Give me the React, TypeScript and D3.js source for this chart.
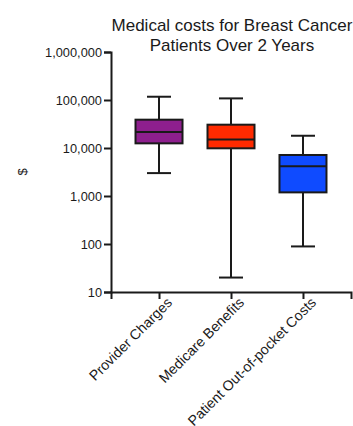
import React, { useEffect, useRef } from 'react';
import * as d3 from 'd3';

// chart data
const categories = ['Provider Charges', 'Medicare Benefits', 'Patient Out-of-pocket Costs'];
const whiskerLow = [3000, 20, 89];
const q1 = [12500, 9850, 1190];
const medians = [21500, 15100, 4150];
const q3 = [38900, 30600, 7150];
const whiskerHigh = [117000, 108000, 18000];
const colors = ['#8e1f8e', '#ff2a00', '#0f4bff'];
const yTicks = [10, 100, 1000, 10000, 100000, 1000000];

const App = () => {
  const svgRef = useRef<SVGSVGElement>(null);
  const width = 353, height = 426;
  const margin = { top: 52, right: 2, bottom: 134, left: 111 };

  useEffect(() => {
    const svg = d3.select(svgRef.current);
    svg.selectAll('*').remove();

    const x = d3.scalePoint()
      .domain(categories)
      .range([margin.left, width - margin.right])
      .padding(0.667);

    const y = d3.scaleLog()
      .domain([10, 1000000])
      .range([height - margin.bottom, margin.top]);

    const font = 'Liberation Sans, Arial, Helvetica, sans-serif';
    const ink = '#1a1a1a';

    // title
    svg.append('text')
      .attr('x', 232).attr('y', 30.5)
      .attr('text-anchor', 'middle')
      .attr('font-family', font).attr('font-size', 17).attr('fill', ink)
      .text('Medical costs for Breast Cancer');
    svg.append('text')
      .attr('x', 232).attr('y', 51)
      .attr('text-anchor', 'middle')
      .attr('font-family', font).attr('font-size', 17).attr('fill', ink)
      .text('Patients Over 2 Years');

    // y axis label
    svg.append('text')
      .attr('transform', `translate(27,172) rotate(-90)`)
      .attr('text-anchor', 'middle')
      .attr('font-family', font).attr('font-size', 13).attr('fill', ink)
      .text('$');

    // y axis
    const yAxis = svg.append('g')
      .attr('transform', `translate(${margin.left},0)`)
      .call(d3.axisLeft(y).tickValues(yTicks).tickFormat(d3.format(',') as any).tickSizeOuter(0).tickSize(7).tickPadding(2));
    yAxis.selectAll('text')
      .attr('font-family', font).attr('font-size', 12.8).attr('fill', ink);

    // x axis
    const xAxis = svg.append('g')
      .attr('transform', `translate(0,${height - margin.bottom})`)
      .call(d3.axisBottom(x).tickSizeOuter(0).tickSize(7));
    xAxis.selectAll('text')
      .attr('font-family', font).attr('font-size', 14.2).attr('fill', ink)
      .attr('text-anchor', 'end')
      .attr('dy', '0.75em')
      .attr('transform', 'translate(6,4) rotate(-45)')
      .attr('x', 0).attr('y', 0);

    svg.selectAll('.domain').attr('stroke', ink).attr('stroke-width', 2);
    svg.selectAll('.tick line').attr('stroke', ink).attr('stroke-width', 2);

    // boxes
    const boxW = 47, capW = 24;
    const g = svg.append('g');
    categories.forEach((c, i) => {
      const cx = x(c) as number;
      g.append('line')
        .attr('x1', cx).attr('x2', cx)
        .attr('y1', y(whiskerLow[i])).attr('y2', y(whiskerHigh[i]))
        .attr('stroke', ink).attr('stroke-width', 2);
      [whiskerLow[i], whiskerHigh[i]].forEach(v => {
        g.append('line')
          .attr('x1', cx - capW / 2).attr('x2', cx + capW / 2)
          .attr('y1', y(v)).attr('y2', y(v))
          .attr('stroke', ink).attr('stroke-width', 2);
      });
      g.append('rect')
        .attr('x', cx - boxW / 2).attr('width', boxW)
        .attr('y', y(q3[i])).attr('height', y(q1[i]) - y(q3[i]))
        .attr('fill', colors[i]).attr('stroke', ink).attr('stroke-width', 2);
      g.append('line')
        .attr('x1', cx - boxW / 2).attr('x2', cx + boxW / 2)
        .attr('y1', y(medians[i])).attr('y2', y(medians[i]))
        .attr('stroke', ink).attr('stroke-width', 2);
    });
  }, []);

  return (
    <svg ref={svgRef} width={width} height={height}
      style={{ position: 'absolute', left: 0, top: 0, background: '#fff' }} />
  );
};

export default App;
